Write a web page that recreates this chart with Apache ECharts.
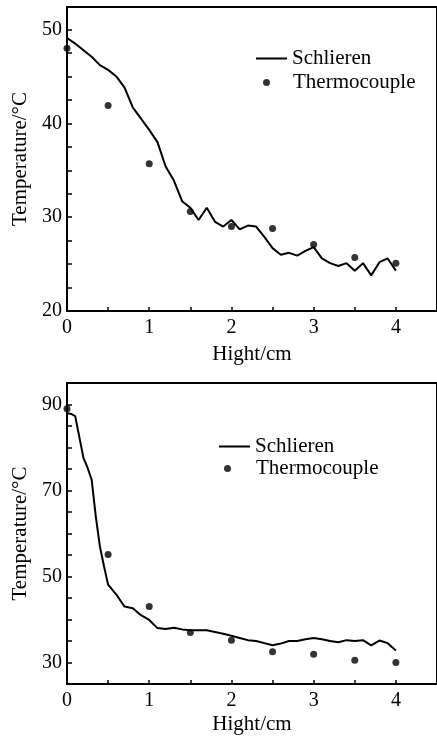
<!DOCTYPE html>
<html>
<head>
<meta charset="utf-8">
<script src="https://cdn.jsdelivr.net/npm/echarts@6/dist/echarts.min.js"></script>
<style>
  html, body { margin: 0; padding: 0; background: #fff; }
  #chart { width: 437px; height: 736px; }
</style>
</head>
<body>
<div id="chart"></div>
<script>
// x positions (cm)
var hightLine = [0, 0.1, 0.2, 0.3, 0.4, 0.5, 0.6, 0.7, 0.8, 0.9, 1.0, 1.1, 1.2, 1.3, 1.4, 1.5, 1.6, 1.7, 1.8, 1.9,
  2.0, 2.1, 2.2, 2.3, 2.4, 2.5, 2.6, 2.7, 2.8, 2.9, 3.0, 3.1, 3.2, 3.3, 3.4, 3.5, 3.6, 3.7, 3.8, 3.9, 4.0]
var hightDots = [0, 0.5, 1, 1.5, 2, 2.5, 3, 3.5, 4]

// 上图
var schlierenTop = [49.1, 48.5, 47.8, 47.1, 46.2, 45.7, 45.0, 43.8, 41.7, 40.5, 39.3, 38.0, 35.4, 33.9, 31.7, 31.0, 29.7, 31.0, 29.5, 29.0,
  29.7, 28.7, 29.1, 29.0, 27.9, 26.7, 26.0, 26.2, 25.9, 26.4, 26.8, 25.6, 25.1, 24.8, 25.1, 24.3, 25.1, 23.8, 25.2, 25.6, 24.3]
var thermoTop = [48.0, 41.9, 35.7, 30.6, 29.0, 28.8, 27.1, 25.7, 25.1]

// 下图
var hightLine2 = [0, 0.05, 0.1, 0.2, 0.25, 0.3, 0.35, 0.4, 0.45, 0.5, 0.6, 0.7, 0.8, 0.9, 1.0, 1.1, 1.2, 1.3, 1.4, 1.5, 1.6, 1.7, 1.8, 1.9,
  2.0, 2.1, 2.2, 2.3, 2.4, 2.5, 2.6, 2.7, 2.8, 2.9, 3.0, 3.1, 3.2, 3.3, 3.4, 3.5, 3.6, 3.7, 3.8, 3.9, 4.0]
var schlierenBot = [88.0, 87.8, 87.3, 77.6, 75.3, 72.5, 64.0, 57.0, 52.4, 48.1, 45.8, 43.0, 42.6, 41.0, 39.9, 38.0, 37.8, 38.1, 37.7, 37.5, 37.5, 37.5, 37.1, 36.7,
  36.2, 35.7, 35.2, 35.0, 34.5, 34.0, 34.4, 35.0, 35.0, 35.4, 35.7, 35.4, 35.0, 34.7, 35.2, 35.0, 35.2, 34.0, 35.1, 34.5, 32.8]
var thermoBot = [89.0, 55.1, 43.0, 37.0, 35.2, 32.5, 31.9, 30.5, 30.0]

var xTicks = [0, 0.5, 1, 1.5, 2, 2.5, 3, 3.5, 4]
var xLabels = [0, 1, 2, 3, 4]
var yTicksTop = [20, 22.5, 25, 27.5, 30, 32.5, 35, 37.5, 40, 42.5, 45, 47.5, 50]
var yLabelsTop = [20, 30, 40, 50]
var yTicksBot = [30, 35, 40, 45, 50, 55, 60, 65, 70, 75, 80, 85, 90]
var yLabelsBot = [30, 50, 70, 90]

function zip(xs, ys) {
  return ys.map(function (v, i) { return [xs[i], v] })
}

var font = 'Liberation Serif'

function xAxisCfg(gridIndex, nameGap) {
  return {
    type: 'value', gridIndex: gridIndex, min: 0, max: 4.5,
    name: 'Hight/cm', nameLocation: 'middle', nameGap: nameGap,
    nameTextStyle: { fontFamily: font, fontSize: 21, color: '#000' },
    axisLine: { show: true, lineStyle: { color: '#000', width: 2 } },
    axisTick: { show: true, inside: true, length: 4, customValues: xTicks, lineStyle: { color: '#000', width: 1.5 } },
    axisLabel: { customValues: xLabels, fontFamily: font, fontSize: 20, color: '#000', margin: 7 },
    splitLine: { show: false }
  }
}

function yAxisCfg(gridIndex, min, max, ticks, labels) {
  return {
    type: 'value', gridIndex: gridIndex, min: min, max: max,
    name: 'Temperature/°C', nameLocation: 'middle', nameGap: 36, nameRotate: 90,
    nameTextStyle: { fontFamily: font, fontSize: 21, color: '#000' },
    axisLine: { show: true, lineStyle: { color: '#000', width: 2 } },
    axisTick: { show: true, inside: true, length: 5, customValues: ticks, lineStyle: { color: '#000', width: 1.5 } },
    axisLabel: { customValues: labels, fontFamily: font, fontSize: 20, color: '#000', margin: 5 },
    splitLine: { show: false }
  }
}

// 图例：线条用细长矩形，圆点单独一个图例
function lineLegend(left, top) {
  return {
    data: [{ name: 'Schlieren', icon: 'path://M0,0H31V2H0Z' }],
    left: left, top: top, itemWidth: 31, itemHeight: 14, padding: 0, selectedMode: false,
    itemStyle: { color: '#000' },
    textStyle: { fontFamily: font, fontSize: 21, color: '#000' }
  }
}

function dotLegend(left, top, padLeft) {
  return {
    data: [{ name: 'Thermocouple', icon: 'circle' }],
    left: left, top: top, itemWidth: 7, itemHeight: 7, padding: 0, selectedMode: false,
    itemStyle: { color: '#000' },
    textStyle: { fontFamily: font, fontSize: 21, color: '#000', padding: [0, 0, 0, padLeft] }
  }
}

var lineStyle = { color: '#000', width: 2 }
var dotStyle = { color: '#000' }

var myChart = echarts.init(document.getElementById('chart'))

var option = {
  animation: false,
  backgroundColor: '#fff',
  grid: [
    { left: 67, top: 7, width: 373, height: 304, show: true, borderColor: '#000', borderWidth: 2 },
    { left: 67, top: 383, width: 373, height: 301, show: true, borderColor: '#000', borderWidth: 2 }
  ],
  xAxis: [xAxisCfg(0, 33), xAxisCfg(1, 30)],
  yAxis: [
    yAxisCfg(0, 20, 52.4, yTicksTop, yLabelsTop),
    yAxisCfg(1, 25, 95, yTicksBot, yLabelsBot)
  ],
  legend: [
    lineLegend(256, 48),
    dotLegend(263, 72, 18),
    lineLegend(219, 436),
    dotLegend(224, 458, 20)
  ],
  series: [
    { name: 'Schlieren', type: 'line', xAxisIndex: 0, yAxisIndex: 0, symbol: 'none',
      lineStyle: lineStyle, itemStyle: dotStyle, data: zip(hightLine, schlierenTop) },
    { name: 'Thermocouple', type: 'scatter', xAxisIndex: 0, yAxisIndex: 0, symbolSize: 7,
      itemStyle: dotStyle, data: zip(hightDots, thermoTop) },
    { name: 'Schlieren', type: 'line', xAxisIndex: 1, yAxisIndex: 1, symbol: 'none',
      lineStyle: lineStyle, itemStyle: dotStyle, data: zip(hightLine2, schlierenBot) },
    { name: 'Thermocouple', type: 'scatter', xAxisIndex: 1, yAxisIndex: 1, symbolSize: 7,
      itemStyle: dotStyle, data: zip(hightDots, thermoBot) }
  ]
}

myChart.setOption(option)
</script>
</body>
</html>
